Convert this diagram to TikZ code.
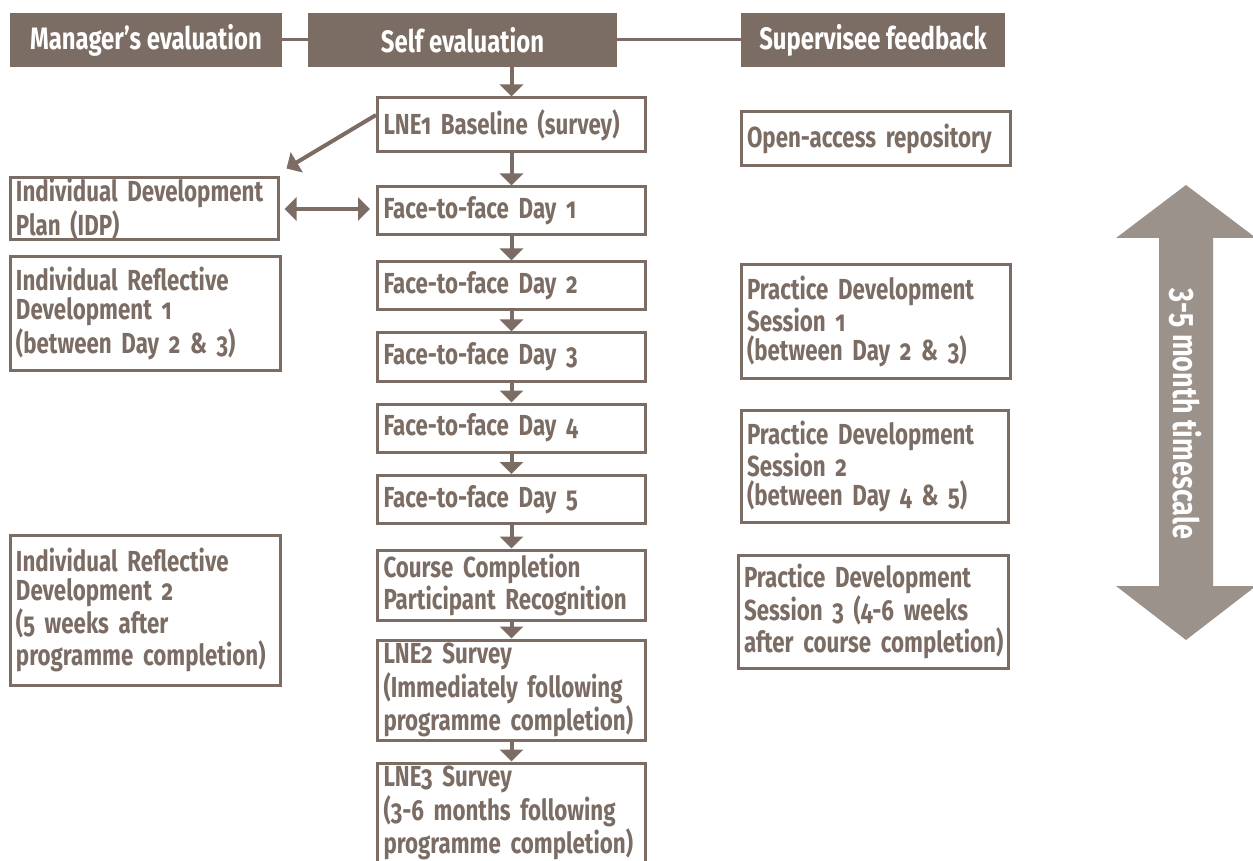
\documentclass[tikz,border=0pt]{standalone}
\usepackage{fontspec}
\setmainfont{Fira Sans}[FakeStretch=0.77, Numbers=OldStyle]
\usetikzlibrary{positioning,arrows.meta}
\definecolor{taupe}{RGB}{123,108,100}
\definecolor{taupelight}{RGB}{155,146,140}
\newcommand{\boxfont}{\bfseries\fontsize{14.5}{14.5}\selectfont\hyphenpenalty=10000\exhyphenpenalty=10000}

\begin{document}
\begin{tikzpicture}[x=0.5pt,y=-0.5pt,>={Triangle[width=11.5pt,length=6pt]}]
\tikzset{
  header/.style={rectangle, fill=taupe, text=white, font=\boxfont\fontsize{15.5}{15.5}\selectfont, minimum height=27pt, inner sep=0pt},
  stage/.style={rectangle, draw=taupe, line width=1.5pt, text=taupe, font=\boxfont, align=left, text width=128pt, inner xsep=3pt, inner ysep=0pt},
  link/.style={draw=taupe, line width=2pt}
}
\useasboundingbox (0,0) rectangle (1253,861);

% Header row
\node[header, minimum width=136pt] (mgr) at (146,40) {Manager’s evaluation};
\node[header, minimum width=154.5pt] (self) at (462.5,40) {Self evaluation};
\node[header, minimum width=132pt] (sup) at (873,40) {Supervisee feedback};

% Central column
\node[stage, minimum height=27pt] (lne1) at (511.5,125) {LNE1 Baseline (survey)};
\node[stage, minimum height=24pt] (day1) at (511.5,211) {Face-to-face Day 1};
\node[stage, minimum height=24pt] (day2) at (511.5,286) {Face-to-face Day 2};
\node[stage, minimum height=24pt] (day3) at (511.5,357) {Face-to-face Day 3};
\node[stage, minimum height=24pt] (day4) at (511.5,428) {Face-to-face Day 4};
\node[stage, minimum height=24pt] (day5) at (511.5,499.5) {Face-to-face Day 5};
\node[stage, minimum height=35pt] (course) at (511.5,585) {Course Completion\\Participant Recognition};
\node[stage, minimum height=50pt] (lne2) at (511.5,690) {LNE2 Survey\\(Immediately following\\programme completion)};
\node[stage, minimum height=50pt] (lne3) at (511.5,813) {LNE3 Survey\\(3-6 months following\\programme completion)};

% Left column
\node[stage, text width=128pt, minimum height=31pt] (idp) at (144,209) {Individual Development\\Plan (IDP)};
\node[stage, text width=129pt, minimum height=56.5pt] (ird1) at (145,313.5) {Individual Reflective\\Development 1\\(between Day 2 \& 3)};
\node[stage, text width=129pt, minimum height=75pt] (ird2) at (145,610) {Individual Reflective\\Development 2\\(5 weeks after\\programme completion)};

% Right column
\node[stage, text width=128.5pt, minimum height=27pt] (oar) at (875.5,139) {Open-access repository};
\node[stage, text width=128.5pt, minimum height=56.5pt] (pds1) at (875.5,321.5) {Practice Development\\Session 1\\(between Day 2 \& 3)};
\node[stage, text width=127.5pt, minimum height=56pt] (pds2) at (874.5,466) {Practice Development\\Session 2\\(between Day 4 \& 5)};
\node[stage, text width=129pt, minimum height=56.5pt] (pds3) at (873,611.5) {Practice Development\\Session 3 (4-6 weeks\\\mbox{after course completion)}};

% Connectors
\draw[taupe, line width=1.5pt] (mgr) -- (self);
\draw[taupe, line width=1.5pt] (self) -- (sup);
\draw[link,->] (self.south -| lne1.north) -- (lne1.north);
\foreach \a/\b in {lne1/day1, day1/day2, day2/day3, day3/day4, day4/day5, day5/course, course/lne2, lne2/lne3}
  \draw[link,->] (\a) -- (\b);
\draw[link,->] ([yshift=5pt]lne1.west) -- ([shift={(3.5pt,4pt)}]idp.north east);
\draw[link,<->,shorten <=2.5pt,shorten >=3pt] (idp.east) -- (idp.east -| day1.west);

% Timescale arrow
\fill[taupelight] (1186,185) -- (1256,238) -- (1213,238) -- (1213,586) -- (1256,586) -- (1186,640)
  -- (1116,586) -- (1159,586) -- (1159,238) -- (1116,238) -- cycle;
\node[rotate=-90, text=white, font=\boxfont\fontsize{17.5}{17.5}\selectfont] (timescale) at (1186,414) {3-5 month timescale};
\end{tikzpicture}
\end{document}
